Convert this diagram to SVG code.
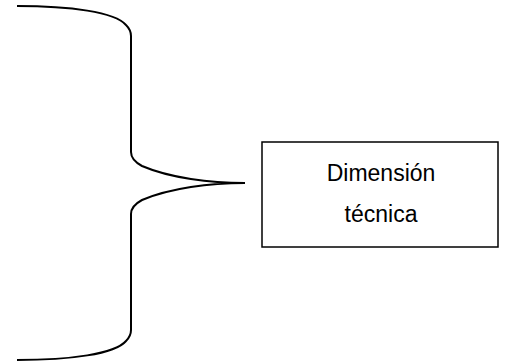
<svg xmlns="http://www.w3.org/2000/svg" width="519" height="362" viewBox="0 0 519 362">
  <style>
    .line { fill: none; stroke: #000; stroke-width: 2; }
    .box { fill: #fff; stroke: #000; stroke-width: 1.5; }
    .label { font-family: "Liberation Sans", Arial, sans-serif; font-size: 23px; fill: #000; text-anchor: middle; }
  </style>
  <rect width="519" height="362" fill="#fff"/>
  <g id="connectors">
    <!-- right-facing curly brace -->
    <path class="line" d="M17 6 C70 6 115 12 126 25 Q131 30 131 36 L131 152 Q131 160 142 166 C170 178 210 183 245 183 C210 183 170 188 142 200 Q131 206 131 214 L131 330 Q131 336 126 341 C115 354 70 360 17 360"/>
  </g>
  <g id="node-dimension">
    <rect class="box" x="262" y="142" width="236" height="105"/>
    <text class="label" x="381" y="181">Dimensión</text>
    <text class="label" x="381" y="222">técnica</text>
  </g>
</svg>
